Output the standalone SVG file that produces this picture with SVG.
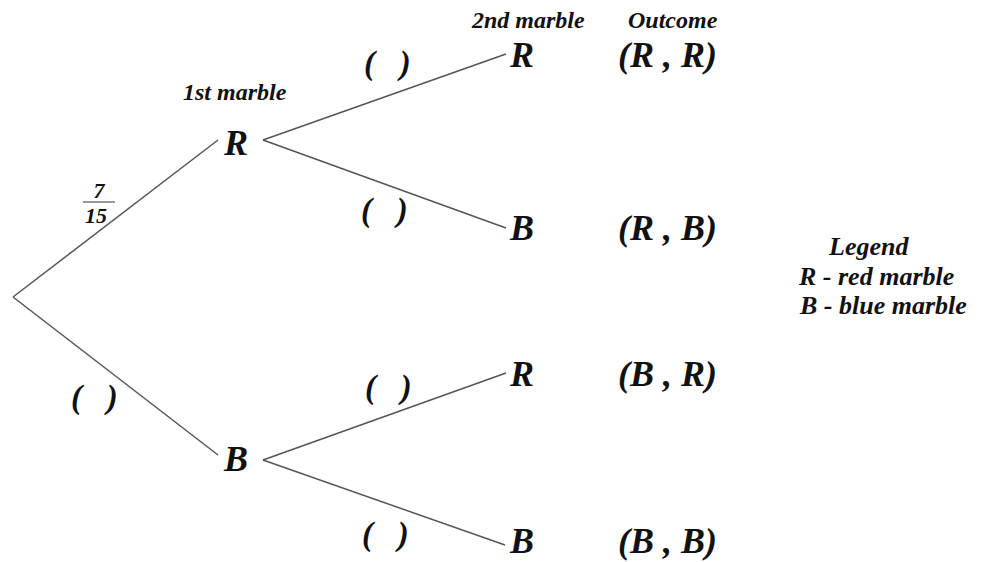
<svg xmlns="http://www.w3.org/2000/svg" width="986" height="562" viewBox="0 0 986 562">
<style>
text{font-family:"Liberation Serif","Times New Roman",serif;font-weight:bold;font-style:italic;fill:#111;}
.big{font-size:36px;}
.hdr{font-size:24px;}
.par{font-size:33px;white-space:pre;}
.frac{font-size:22px;}
.leg{font-size:26px;}
.edge{stroke:#555;stroke-width:1.5;fill:none;}
</style>
<rect width="986" height="562" fill="#fff"/>
<g id="connectors">
<line class="edge" x1="13" y1="297" x2="218" y2="140"/>
<line class="edge" x1="13" y1="297" x2="218" y2="455"/>
<line class="edge" x1="263" y1="140" x2="506" y2="54"/>
<line class="edge" x1="263" y1="140" x2="506" y2="228"/>
<line class="edge" x1="263" y1="460" x2="506" y2="373"/>
<line class="edge" x1="263" y1="460" x2="505" y2="545"/>
<line x1="83" y1="202" x2="115" y2="202" stroke="#555" stroke-width="1.2"/>
</g>
<g id="headers">
<text class="hdr" x="183" y="100">1st marble</text>
<text class="hdr" x="472" y="28">2nd marble</text>
<text class="hdr" x="628" y="28">Outcome</text>
</g>
<g id="node-R1"><text class="big" x="224" y="155">R</text></g>
<g id="node-B1"><text class="big" x="224" y="471">B</text></g>
<g id="node-RR"><text class="big" x="510" y="67">R</text><text class="big" x="618" y="67">(R , R)</text></g>
<g id="node-RB"><text class="big" x="510" y="240">B</text><text class="big" x="618" y="240">(R , B)</text></g>
<g id="node-BR"><text class="big" x="510" y="386">R</text><text class="big" x="618" y="386">(B , R)</text></g>
<g id="node-BB"><text class="big" x="510" y="553">B</text><text class="big" x="618" y="553">(B , B)</text></g>
<g id="labels">
<text class="frac" x="99" y="198" text-anchor="middle">7</text>
<text class="frac" x="96" y="223" text-anchor="middle">15</text>
<text class="par" x="364" y="74">(   )</text>
<text class="par" x="361" y="221">(   )</text>
<text class="par" x="365" y="398">(   )</text>
<text class="par" x="362" y="545">(   )</text>
<text class="par" x="71" y="408">(   )</text>
</g>
<g id="legend">
<text class="leg" x="829" y="255" font-size="25">Legend</text>
<text class="leg" x="799" y="285">R - red marble</text>
<text class="leg" x="800" y="314">B - blue marble</text>
</g>
</svg>
